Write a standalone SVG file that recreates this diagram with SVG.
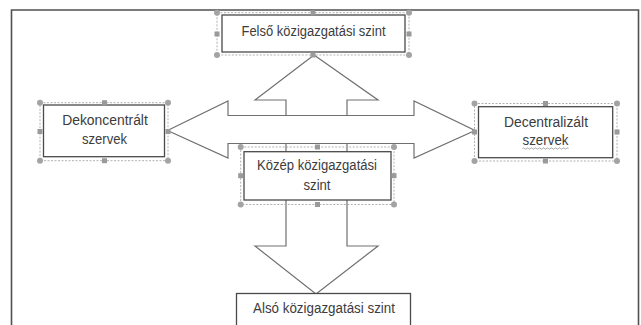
<svg xmlns="http://www.w3.org/2000/svg" width="641" height="325" viewBox="0 0 641 325">
<style>
.frame{fill:none;stroke:#505050;stroke-width:1.6}
.arrow{fill:#ffffff;stroke:#707070;stroke-width:1.2;stroke-linejoin:miter}
.box{fill:#ffffff;stroke:#4a4a4a;stroke-width:1.3}
.sel{fill:none;stroke:#a8a8a8;stroke-width:0.9;stroke-dasharray:2 1.5}
.hc{fill:#a3a3a3}
.hs{fill:#9a9a9a}
text{font-family:"Liberation Sans",Arial,sans-serif;font-size:14px;fill:#3c3c3c;text-anchor:middle}
.wave{fill:none;stroke:#8a8a8a;stroke-width:0.8}
</style>
<rect width="641" height="325" fill="#ffffff"/>
<path class="frame" d="M11.5,326 V10 H638.5 V326"/>
<g id="connectors">
<polygon class="arrow" points="314,55 378,100 347,100 347,125 286,125 286,100 255,100"/>
<polygon class="arrow" points="286,135 347,135 347,246 378,246 316,294 255,246 286,246"/>
<polygon class="arrow" points="167.5,130.5 228,101 228,115.5 414,115.5 414,101 475,130.5 414,158 414,143.5 228,143.5 228,158"/>
</g>
<g id="node-felso">
<rect class="sel" x="217" y="12.7" width="192" height="42.3"/>
<rect class="box" x="222" y="15" width="183" height="37"/>
<text x="313.5" y="36" textLength="144" lengthAdjust="spacingAndGlyphs">Felső közigazgatási szint</text>
<circle class="hc" cx="217" cy="12.7" r="3"/><circle class="hc" cx="409" cy="12.7" r="3"/>
<circle class="hc" cx="217" cy="55" r="3"/><circle class="hc" cx="409" cy="55" r="3"/>
<rect class="hs" x="310.5" y="10.2" width="5" height="5"/><rect class="hs" x="310.5" y="52.5" width="5" height="5"/>
<rect class="hs" x="214.5" y="31.5" width="5" height="5"/><rect class="hs" x="406.5" y="31.5" width="5" height="5"/>
</g>
<g id="node-dekoncentralt">
<rect class="sel" x="40" y="102.7" width="128" height="58"/>
<rect class="box" x="43.5" y="105" width="121" height="51.7"/>
<text x="105" y="125" textLength="85.6" lengthAdjust="spacingAndGlyphs">Dekoncentrált</text>
<text x="104.5" y="143.5" textLength="45" lengthAdjust="spacingAndGlyphs">szervek</text>
<circle class="hc" cx="40" cy="102.7" r="3"/><circle class="hc" cx="168" cy="102.7" r="3"/>
<circle class="hc" cx="40" cy="160.7" r="3"/><circle class="hc" cx="168" cy="160.7" r="3"/>
<rect class="hs" x="102" y="100.2" width="5" height="5"/><rect class="hs" x="102" y="158.2" width="5" height="5"/>
<rect class="hs" x="37.5" y="129" width="5" height="5"/><rect class="hs" x="165.5" y="129" width="5" height="5"/>
</g>
<g id="node-decentralizalt">
<rect class="sel" x="474.5" y="103.5" width="142.5" height="57.5"/>
<rect class="box" x="478.5" y="106.7" width="134.2" height="51"/>
<text x="546" y="126.5" textLength="84" lengthAdjust="spacingAndGlyphs">Decentralizált</text>
<text x="545.5" y="145" textLength="46" lengthAdjust="spacingAndGlyphs">szervek</text>
<path class="wave" d="M522.5,148.5 q1,-1.2 2,0 t2,0 t2,0 t2,0 t2,0 t2,0 t2,0 t2,0 t2,0 t2,0 t2,0 t2,0 t2,0 t2,0 t2,0 t2,0 t2,0 t2,0 t2,0 t2,0 t2,0 t2,0 t2,0"/>
<circle class="hc" cx="474.5" cy="103.5" r="3"/><circle class="hc" cx="617" cy="103.5" r="3"/>
<circle class="hc" cx="474.5" cy="161" r="3"/><circle class="hc" cx="617" cy="161" r="3"/>
<rect class="hs" x="543" y="101" width="5" height="5"/><rect class="hs" x="543" y="158.5" width="5" height="5"/>
<rect class="hs" x="472" y="129.5" width="5" height="5"/><rect class="hs" x="614.5" y="129.5" width="5" height="5"/>
</g>
<g id="node-kozep">
<rect class="sel" x="240.7" y="147" width="153.3" height="57.5"/>
<rect class="box" x="244" y="151.7" width="147" height="48.3"/>
<text x="317" y="169.5" textLength="120" lengthAdjust="spacingAndGlyphs">Közép közigazgatási</text>
<text x="317" y="189.5" textLength="27" lengthAdjust="spacingAndGlyphs">szint</text>
<circle class="hc" cx="240.7" cy="147" r="3"/><circle class="hc" cx="394" cy="147" r="3"/>
<circle class="hc" cx="240.7" cy="204.5" r="3"/><circle class="hc" cx="394" cy="204.5" r="3"/>
<rect class="hs" x="315" y="144.5" width="5" height="5"/><rect class="hs" x="315" y="202" width="5" height="5"/>
<rect class="hs" x="238.2" y="173.2" width="5" height="5"/><rect class="hs" x="391.5" y="173.2" width="5" height="5"/>
</g>
<g id="node-also">
<rect class="box" x="236.5" y="293.5" width="174" height="40"/>
<text x="324" y="313" textLength="142" lengthAdjust="spacingAndGlyphs">Alsó közigazgatási szint</text>
</g>
</svg>
